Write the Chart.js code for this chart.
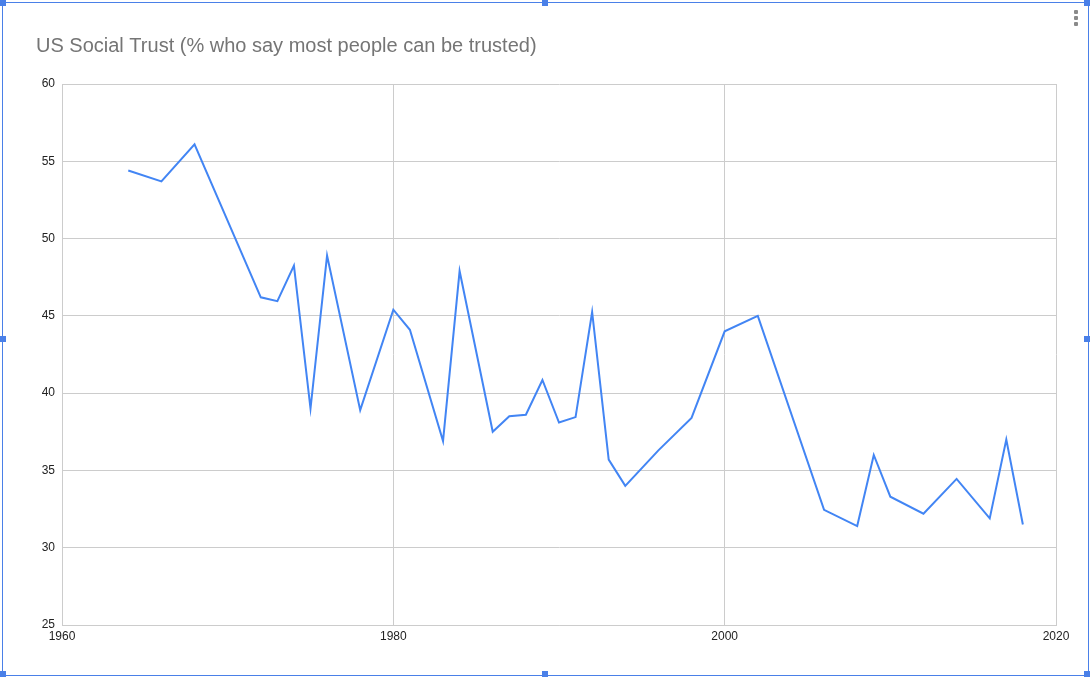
<!DOCTYPE html>
<html>
<head>
<meta charset="utf-8">
<script src="https://cdn.jsdelivr.net/npm/chart.js@4.4.0/dist/chart.umd.min.js"></script>
<style>
  html, body { margin: 0; padding: 0; background: #fff; }
  #wrap { position: relative; width: 1090px; height: 677px; overflow: hidden; }
  #c { position: absolute; left: 0; top: 0; }
  .frame { position: absolute; left: 2px; top: 2px; width: 1085px; height: 672px; border: 1px solid #4a80e8; pointer-events: none; }
  .h { position: absolute; width: 6px; height: 6px; background: #4a80e8; pointer-events: none; }
  .dot { position: absolute; width: 4px; height: 4px; border-radius: 1px; background: #8a8a8a; left: 1074px; }
</style>
</head>
<body>
<div id="wrap">
  <canvas id="c" width="1090" height="677"></canvas>
  <div class="frame"></div>
  <div class="h" style="left:0;top:0"></div>
  <div class="h" style="left:542px;top:0"></div>
  <div class="h" style="left:1084px;top:0"></div>
  <div class="h" style="left:0;top:336px"></div>
  <div class="h" style="left:1084px;top:336px"></div>
  <div class="h" style="left:0;top:671px"></div>
  <div class="h" style="left:542px;top:671px"></div>
  <div class="h" style="left:1084px;top:671px"></div>
  <div class="dot" style="top:10px"></div>
  <div class="dot" style="top:16px"></div>
  <div class="dot" style="top:22px"></div>
</div>
<script>
const titleText = 'US Social Trust (% who say most people can be trusted)';
const years = [1964, 1966, 1968, 1972, 1973, 1974, 1975, 1976, 1978, 1980, 1981, 1983, 1984, 1986, 1987, 1988, 1989, 1990, 1991, 1992, 1993, 1994, 1996, 1998, 2000, 2002, 2006, 2008, 2009, 2010, 2012, 2014, 2016, 2017, 2018];
const trust = [54.4, 53.7, 56.1, 46.2, 45.95, 48.25, 39.0, 48.9, 38.9, 45.4, 44.1, 36.9, 47.9, 37.5, 38.5, 38.6, 40.85, 38.1, 38.45, 45.25, 35.7, 34.0, 36.3, 38.4, 44.0, 45.0, 32.45, 31.4, 36.0, 33.3, 32.2, 34.45, 31.9, 37.0, 31.5];
const xTicks = [1960, 1980, 2000, 2020];
const yTicks = [25, 30, 35, 40, 45, 50, 55, 60];

const points = years.map((y, i) => ({ x: y, y: trust[i] }));
const font = 'Liberation Sans, Arial, sans-serif';

new Chart(document.getElementById('c'), {
  type: 'line',
  data: {
    datasets: [{
      data: points,
      borderColor: '#4285f4',
      borderWidth: 2,
      pointRadius: 0,
      tension: 0,
      fill: false
    }]
  },
  options: {
    responsive: false,
    animation: false,
    layout: { padding: { left: 36, top: 34, right: 34, bottom: 0 } },
    plugins: {
      legend: { display: false },
      tooltip: { enabled: false },
      title: {
        display: true,
        text: titleText,
        align: 'start',
        color: '#757575',
        font: { family: font, size: 20, weight: 'normal' },
        padding: { top: 0, bottom: 26 }
      }
    },
    scales: {
      x: {
        type: 'linear',
        min: xTicks[0],
        max: xTicks[xTicks.length - 1],
        afterBuildTicks: s => { s.ticks = xTicks.map(v => ({ value: v })); },
        afterFit: s => { s.height = 52; },
        grid: { color: '#cccccc', drawTicks: false, lineWidth: 1 },
        border: { color: '#cccccc' },
        ticks: { color: '#222', font: { family: font, size: 12 }, padding: 4, maxRotation: 0, callback: v => String(v) }
      },
      y: {
        min: yTicks[0],
        max: yTicks[yTicks.length - 1],
        afterBuildTicks: s => { s.ticks = yTicks.map(v => ({ value: v })); },
        afterFit: s => { s.width = 26; },
        grid: { color: '#cccccc', drawTicks: false, lineWidth: 1 },
        border: { color: '#cccccc' },
        ticks: { color: '#222', font: { family: font, size: 12 }, padding: 7, callback: v => String(v) }
      }
    }
  },
  plugins: [{
    id: 'bg',
    beforeDraw: c => { const g = c.ctx; g.save(); g.fillStyle = '#fff'; g.fillRect(0, 0, c.width, c.height); g.restore(); }
  }]
});
</script>
</body>
</html>
